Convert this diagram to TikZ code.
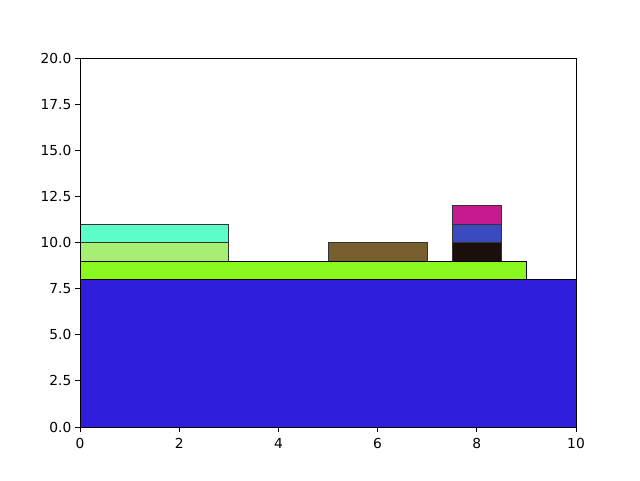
\documentclass[tikz,border=0pt]{standalone}
\usepackage{fontspec}
\setmainfont{DejaVu Sans}
\definecolor{base}{HTML}{2F1FDC}
\definecolor{lime}{HTML}{8AF81F}
\definecolor{pale}{HTML}{A6EF72}
\definecolor{aqua}{HTML}{5CFDC8}
\definecolor{mud}{HTML}{765E2D}
\definecolor{soot}{HTML}{1A0F0A}
\definecolor{slate}{HTML}{3A4ABF}
\definecolor{plum}{HTML}{C41A8F}
\tikzset{
  block/.style={
    draw = black!80,
    line width = 0.6pt
  },
  tick/.style={
    line width = 0.6pt
  },
  ticklab/.style={
    font = \fontsize{9.8pt}{11pt}\selectfont,
    inner sep = 0pt
  }
}
\begin{document}
\begin{tikzpicture}
    \useasboundingbox (0,0) rectangle (16,12);
    \begin{scope}[shift={(2,1.325)},x=1.24cm,y=0.46125cm]
    \fill[block,fill=base,draw=black] (0,0) rectangle (10,8);
    \fill[block,fill=lime] (0,8) rectangle (9,9);
    \filldraw[block,fill=pale] (0,9) rectangle (3,10);
    \filldraw[block,fill=aqua] (0,10) rectangle (3,11);
    \filldraw[block,fill=mud] (5,9) rectangle (7,10);
    \filldraw[block,fill=soot] (7.5,9) rectangle (8.5,10);
    \filldraw[block,fill=slate] (7.5,10) rectangle (8.5,11);
    \filldraw[block,fill=plum] (7.5,11) rectangle (8.5,12);
    \draw[block,draw=black] (0,8) rectangle (9,9);
    \draw[tick] (0,0) rectangle (10,20);
    \foreach \x in {0,2,4,6,8,10}{
    \draw[tick] (\x,0) -- ++(0,-3.44pt);
    \node[ticklab,anchor=north] at ([yshift=-8pt]\x,0) {\x};}
    \foreach \y in {0.0,2.5,5.0,7.5,10.0,12.5,15.0,17.5,20.0}{
    \draw[tick] (0,\y) -- ++(-3.44pt,0);
    \node[ticklab,anchor=east] at ([xshift=-6pt]0,\y) {\y};}
    \end{scope}
\end{tikzpicture}
\end{document}
